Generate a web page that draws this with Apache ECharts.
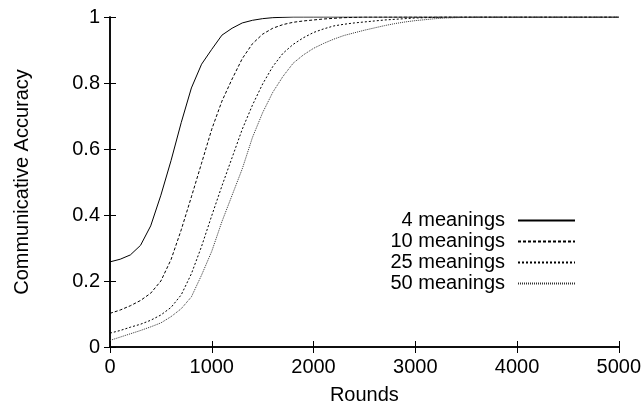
<!DOCTYPE html>
<html>
<head>
<meta charset="utf-8">
<script src="https://cdn.jsdelivr.net/npm/echarts@6/dist/echarts.min.js"></script>
<style>html,body{margin:0;padding:0;background:#fff;}#c{width:644px;height:410px;}</style>
</head>
<body>
<div id="c"></div>
<script>
const rounds = [0,100,200,300,400,500,600,700,800,900,1000,1100,1200,1300,1400,1500,1600,1700,1800,1900,2000,2100,2200,2300,2400,2500,2600,2700,2800,2900,3000,3100,3200,3300,3400,3500,3600,5000];
const seriesNames = ['4 meanings','10 meanings','25 meanings','50 meanings'];
const acc4  = [0.258,0.266,0.279,0.308,0.367,0.46,0.565,0.68,0.785,0.857,0.902,0.945,0.966,0.982,0.99,0.995,0.998,0.999,1,1,1,1,1,1,1,1,1,1,1,1,1,1,1,1,1,1,1,1];
const acc10 = [0.102,0.112,0.125,0.141,0.163,0.2,0.265,0.355,0.455,0.557,0.66,0.745,0.812,0.874,0.919,0.948,0.966,0.977,0.984,0.988,0.991,0.994,0.996,0.998,0.999,1,1,1,1,1,1,1,1,1,1,1,1,1];
const acc25 = [0.042,0.05,0.06,0.069,0.081,0.097,0.12,0.158,0.222,0.305,0.398,0.488,0.574,0.66,0.733,0.797,0.85,0.89,0.917,0.937,0.953,0.964,0.973,0.978,0.982,0.985,0.988,0.991,0.993,0.995,0.997,0.998,0.999,1,1,1,1,1];
const acc50 = [0.02,0.03,0.04,0.05,0.061,0.073,0.092,0.116,0.152,0.218,0.29,0.38,0.46,0.54,0.635,0.71,0.772,0.82,0.86,0.885,0.905,0.92,0.933,0.944,0.952,0.96,0.967,0.974,0.98,0.985,0.989,0.992,0.995,0.997,0.998,0.999,1,1];
const xTicks = [0,1000,2000,3000,4000,5000];
const yTicks = [0,0.2,0.4,0.6,0.8,1];

const font = 'Liberation Sans, Arial, Helvetica, sans-serif';
const allAcc = [acc4, acc10, acc25, acc50];
const styles = [
  {type:'solid', color:'#000'},
  {type:[3,2], color:'#000'},
  {type:[2,2], color:'#000'},
  {type:[1,1], color:'#333'}
];
const chart = echarts.init(document.getElementById('c'), null, {renderer:'canvas'});
const axisCommon = {
  axisLine:{show:true, lineStyle:{color:'#000', width:1.5}},
  axisTick:{show:true, inside:true, length:6, lineStyle:{color:'#000', width:1}},
  splitLine:{show:false}
};
const plain = v => String(v);
chart.setOption({
  animation:false,
  backgroundColor:'#fff',
  grid:{left:110, right:23, top:17, bottom:60, containLabel:false},
  legend:{
    orient:'vertical', align:'right', right:63, top:205,
    itemWidth:57, itemHeight:14, itemGap:0,
    data: seriesNames,
    itemStyle:{opacity:0},
    textStyle:{fontFamily:font, fontSize:20, color:'#000', lineHeight:21, padding:[0,8,0,0]}
  },
  xAxis:[
    Object.assign({type:'value', min:xTicks[0], max:xTicks[xTicks.length-1], interval:xTicks[1]-xTicks[0], position:'bottom',
      name:'Rounds', nameLocation:'middle', nameGap:38,
      nameTextStyle:{fontFamily:font, fontSize:20, color:'#000'},
      axisLabel:{fontFamily:font, fontSize:20, color:'#000', margin:10, formatter:plain}}, axisCommon),
    Object.assign({type:'value', min:xTicks[0], max:xTicks[xTicks.length-1], interval:xTicks[1]-xTicks[0], position:'top',
      axisLabel:{show:false}}, axisCommon)
  ],
  yAxis:[
    Object.assign({type:'value', min:yTicks[0], max:yTicks[yTicks.length-1], interval:0.2, position:'left',
      name:'Communicative Accuracy', nameLocation:'middle', nameGap:78,
      nameTextStyle:{fontFamily:font, fontSize:20, color:'#000'},
      axisLabel:{fontFamily:font, fontSize:20, color:'#000', margin:10, formatter:plain}}, axisCommon),
    Object.assign({type:'value', min:yTicks[0], max:yTicks[yTicks.length-1], interval:0.2, position:'right',
      axisLabel:{show:false}}, axisCommon)
  ],
  series: seriesNames.map((n,i)=>({
    name:n, type:'line', xAxisIndex:0, yAxisIndex:0,
    showSymbol:false, symbol:'none', smooth:false,
    lineStyle:{width:1, color:styles[i].color, type:styles[i].type},
    itemStyle:{color:styles[i].color},
    data: rounds.map((r,j)=>[r, allAcc[i][j]])
  }))
});
</script>
</body>
</html>
